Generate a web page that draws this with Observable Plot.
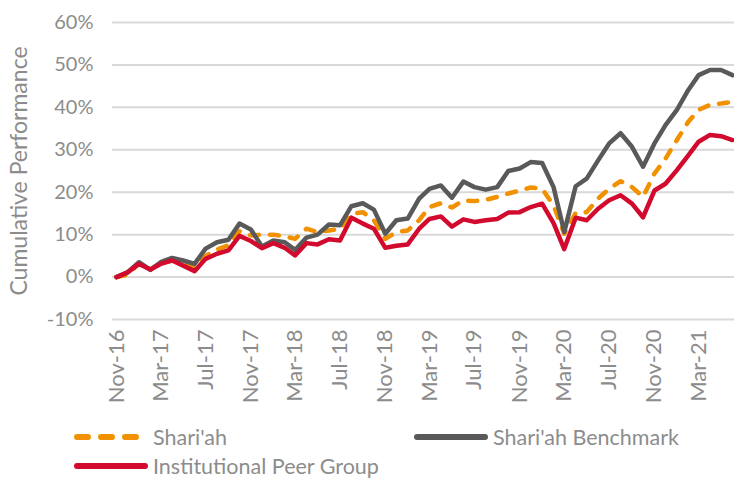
<!DOCTYPE html>
<html>
<head>
<meta charset="utf-8">
<script src="https://cdn.jsdelivr.net/npm/d3@7"></script>
<script src="https://cdn.jsdelivr.net/npm/@observablehq/plot@0.6"></script>
<style>
  html, body { margin: 0; padding: 0; background: #fff; }
  #wrap { position: relative; width: 734px; height: 479px; overflow: hidden; font-family: Lato, "Open Sans", sans-serif; }
  .leg { position: absolute; display: flex; align-items: center; font-size: 21.5px; line-height: 22px; color: #8c8c8c; white-space: nowrap; }
  .leg svg { margin-right: 5px; }
</style>
</head>
<body>
<div id="wrap"></div>
<script>
// Monthly observations, Nov-16 .. Jun-21 (cumulative performance, %)
const startMonth = "2016-11";
const shariah = [0, 0.5, 3.2, 1.8, 3.3, 4.2, 3.3, 2.0, 5.0, 6.5, 7.5, 10.8, 9.8, 10.0,
  10.0, 9.6, 9.0, 11.4, 10.6, 11.0, 11.3, 14.9, 15.3, 13.4, 9.0, 10.6, 11.0, 13.4,
  16.5, 17.4, 16.4, 18.1, 17.9, 18.2, 18.9, 19.7, 20.4, 21.1, 20.8, 16.9, 10.2, 15.1,
  15.3, 18.5, 20.8, 22.6, 21.2, 18.9, 24.4, 27.9, 32.3, 36.6, 39.4, 40.6, 40.9, 41.3];
const benchmark = [0, 1.1, 3.5, 1.7, 3.5, 4.5, 3.9, 3.1, 6.7, 8.2, 8.8, 12.6, 11.2, 7.2,
  8.6, 8.2, 6.4, 9.3, 10.0, 12.4, 12.2, 16.7, 17.4, 15.9, 10.2, 13.4, 13.8, 18.5,
  20.8, 21.6, 18.7, 22.5, 21.2, 20.6, 21.2, 25.0, 25.6, 27.1, 26.9, 21.2, 10.6, 21.4,
  23.2, 27.5, 31.5, 33.9, 30.7, 26.0, 31.5, 35.8, 39.4, 44.1, 47.6, 48.8, 48.8, 47.6];
const peerGroup = [0, 1.1, 3.1, 1.8, 3.1, 3.9, 2.7, 1.4, 4.3, 5.5, 6.3, 9.7, 8.5, 6.8,
  8.0, 6.9, 5.1, 8.0, 7.7, 8.9, 8.6, 14.0, 12.6, 11.4, 6.9, 7.4, 7.7, 11.4,
  13.7, 14.3, 11.9, 13.6, 13.0, 13.4, 13.7, 15.2, 15.3, 16.5, 17.3, 12.7, 6.6, 14.0,
  13.4, 16.1, 18.1, 19.3, 17.3, 14.1, 20.4, 22.0, 25.2, 28.7, 31.9, 33.5, 33.2, 32.3];
const xTickLabels = ["Nov-16","Mar-17","Jul-17","Nov-17","Mar-18","Jul-18","Nov-18",
  "Mar-19","Jul-19","Nov-19","Mar-20","Jul-20","Nov-20","Mar-21"];
const yTicks = [-10, 0, 10, 20, 30, 40, 50, 60];
const seriesNames = ["Shari'ah", "Shari'ah Benchmark", "Institutional Peer Group"];
const seriesColors = ["#f29100", "#595959", "#d20a2e"];

const parseM = d3.utcParse("%Y-%m");
const parseTick = d3.utcParse("%b-%y");
const start = parseM(startMonth);
const dates = shariah.map((_, i) => d3.utcMonth.offset(start, i));
const mk = (arr, name) => arr.map((v, i) => ({date: dates[i], value: v, series: name}));
const dS = mk(shariah, seriesNames[0]);
const dB = mk(benchmark, seriesNames[1]);
const dP = mk(peerGroup, seriesNames[2]);
const xTicks = xTickLabels.map(parseTick);

const chart = Plot.plot({
  width: 734,
  height: 479,
  marginTop: 22,
  marginBottom: 160,
  marginLeft: 112,
  marginRight: 0,
  style: {fontFamily: "Lato, 'Open Sans', sans-serif", fontSize: "20px", color: "#8c8c8c", background: "#fff"},
  x: {type: "utc", domain: [dates[0], dates[dates.length - 1]], insetLeft: 4, insetRight: 2},
  y: {domain: [-10, 60]},
  marks: [
    Plot.gridY(yTicks, {stroke: "#d9d9d9", strokeOpacity: 1, strokeWidth: 2}),
    Plot.axisY(yTicks, {tickSize: 0, tickPadding: 19, tickFormat: d => d + "%", fontSize: 20, label: null}),
    Plot.axisY([], {label: "Cumulative Performance", labelAnchor: "center", labelArrow: "none",
      labelOffset: 102, fontSize: 23}),
    Plot.axisX(xTicks, {tickSize: 0, tickRotate: -90, tickPadding: 10, fontSize: 22,
      tickFormat: d3.utcFormat("%b-%y"), label: null}),
    Plot.line(dS, {x: "date", y: "value", stroke: seriesColors[0], strokeWidth: 4.5,
      strokeDasharray: "9,11", strokeLinecap: "round", strokeLinejoin: "round"}),
    Plot.line(dB, {x: "date", y: "value", stroke: seriesColors[1], strokeWidth: 4.5,
      strokeLinecap: "round", strokeLinejoin: "round"}),
    Plot.line(dP, {x: "date", y: "value", stroke: seriesColors[2], strokeWidth: 4.5,
      strokeLinecap: "round", strokeLinejoin: "round"})
  ]
});
const wrap = document.getElementById("wrap");
wrap.appendChild(chart);

function legendItem(name, color, dashed, left, top, w) {
  const div = document.createElement("div");
  div.className = "leg";
  div.style.left = left + "px";
  div.style.top = top + "px";
  div.style.height = "22px";
  const dash = dashed ? ' stroke-dasharray="11,13"' : '';
  div.innerHTML = `<svg width="${w}" height="12"><line x1="3" x2="${w - 3}" y1="6" y2="6" stroke="${color}" stroke-width="6" stroke-linecap="round"${dash}/></svg><span>${name}</span>`;
  wrap.appendChild(div);
}
legendItem(seriesNames[0], seriesColors[0], true, 74, 426, 74);
legendItem(seriesNames[1], seriesColors[1], false, 414, 426, 74);
legendItem(seriesNames[2], seriesColors[2], false, 74, 455, 74);
</script>
</body>
</html>
